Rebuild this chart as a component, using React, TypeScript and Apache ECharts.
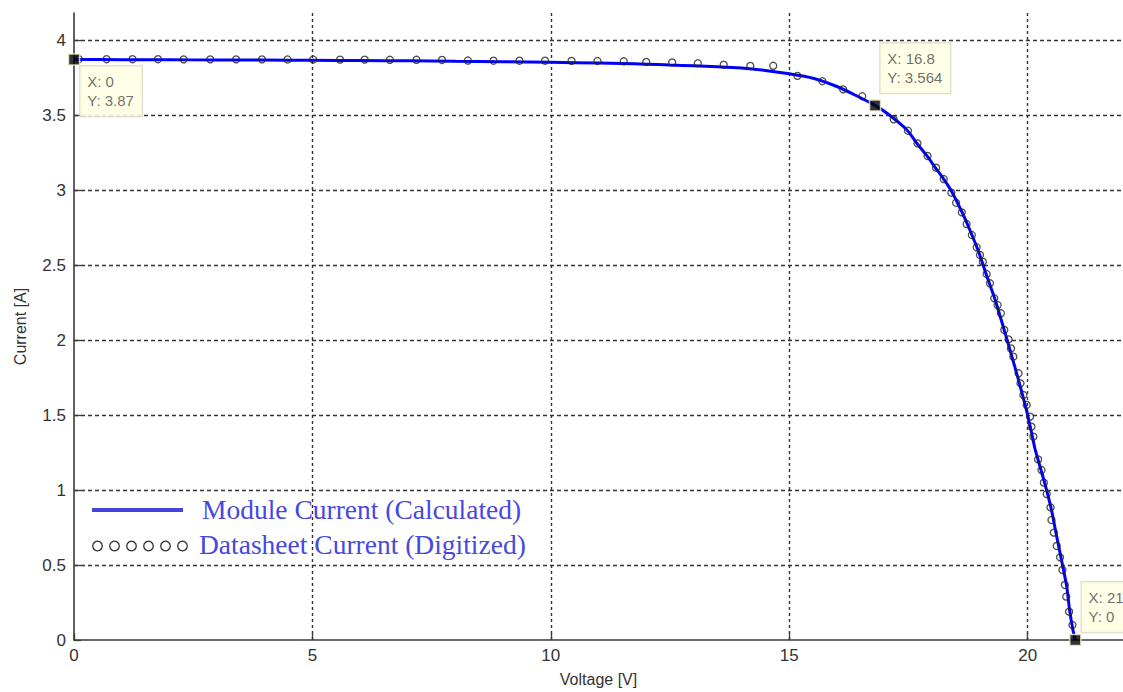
import React, { useEffect, useRef } from "react";
import * as echarts from "echarts";

// Calculated module current (blue line)
const calcVoltage = [0, 1, 2, 3, 4, 5, 6, 7, 8, 9, 10, 11, 11.5, 12, 12.5, 13, 13.5, 14, 14.5, 15, 15.5, 16, 16.4, 16.8, 17.1, 17.47, 17.68, 17.89, 18.06, 18.24, 18.41, 18.62, 18.76, 18.97, 19.14, 19.32, 19.56, 19.77, 19.94, 20.05, 20.15, 20.22, 20.36, 20.5, 20.61, 20.71, 20.82, 20.88, 20.95, 21];
const calcCurrent = [3.87, 3.869, 3.868, 3.867, 3.866, 3.865, 3.863, 3.861, 3.858, 3.855, 3.851, 3.847, 3.844, 3.839, 3.833, 3.828, 3.822, 3.813, 3.797, 3.775, 3.745, 3.69, 3.63, 3.564, 3.5, 3.4, 3.31, 3.227, 3.151, 3.073, 2.989, 2.855, 2.755, 2.59, 2.43, 2.267, 2.011, 1.778, 1.578, 1.43, 1.28, 1.2, 1.044, 0.867, 0.689, 0.533, 0.356, 0.2, 0.067, 0];

// Datasheet current (digitized circles)
const sheetVoltage = [0.1, 0.683, 1.227, 1.762, 2.299, 2.857, 3.4, 3.944, 4.479, 5.016, 5.58, 6.096, 6.625, 7.183, 7.718, 8.261, 8.798, 9.342, 9.879, 10.435, 10.978, 11.53, 12.002, 12.545, 13.083, 13.626, 14.184, 14.665, 15.172, 15.695, 16.13, 16.53, 17.19, 17.49, 17.69, 17.9, 18.08, 18.24, 18.4, 18.5, 18.62, 18.72, 18.83, 18.93, 19.0, 19.06, 19.14, 19.21, 19.3, 19.37, 19.44, 19.51, 19.6, 19.65, 19.7, 19.81, 19.85, 19.91, 19.98, 20.05, 20.08, 20.12, 20.22, 20.29, 20.34, 20.4, 20.48, 20.5, 20.55, 20.61, 20.68, 20.73, 20.78, 20.81, 20.87, 20.94];
const sheetCurrent = [3.872, 3.872, 3.872, 3.872, 3.871, 3.871, 3.871, 3.871, 3.87, 3.87, 3.869, 3.869, 3.868, 3.868, 3.867, 3.863, 3.862, 3.862, 3.862, 3.861, 3.86, 3.858, 3.854, 3.851, 3.845, 3.836, 3.827, 3.828, 3.761, 3.725, 3.671, 3.625, 3.471, 3.395, 3.311, 3.227, 3.149, 3.073, 2.982, 2.915, 2.851, 2.773, 2.7, 2.618, 2.567, 2.522, 2.44, 2.378, 2.278, 2.233, 2.178, 2.067, 2.004, 1.944, 1.889, 1.778, 1.711, 1.633, 1.567, 1.489, 1.422, 1.356, 1.204, 1.133, 1.049, 0.973, 0.884, 0.8, 0.716, 0.627, 0.551, 0.467, 0.367, 0.289, 0.189, 0.1];

// Data tips
const tipVoltage = [0, 16.8, 21];
const tipCurrent = [3.87, 3.564, 0];

const legendLabels = ["Module Current (Calculated)", "Datasheet Current (Digitized)"];
const xAxisTitle = "Voltage [V]";
const yAxisTitle = "Current [A]";

const tipLabelOffsets = [
  [12.5, 13],
  [11.5, -56],
  [12.5, -51.5],
];

const App: React.FC = () => {
  const ref = useRef<HTMLDivElement>(null);

  useEffect(() => {
    if (!ref.current) return;
    const chart = echarts.init(ref.current, undefined, { renderer: "svg" });
    const sans = "'Liberation Sans', Arial, sans-serif";
    const serif = "'Liberation Serif', 'Times New Roman', serif";

    const legendCircles = [0, 1, 2, 3, 4, 5].map((i) => ({
      type: "circle",
      shape: { cx: 97.5 + i * 17, cy: 546, r: 4.8 },
      style: { fill: "transparent", stroke: "#333", lineWidth: 1.3 },
    }));

    chart.setOption({
      animation: false,
      backgroundColor: "#ffffff",
      grid: { left: 74, right: -4, top: 13, bottom: 52, containLabel: false },
      xAxis: {
        type: "value",
        min: 0,
        max: 22,
        interval: 5,
        name: xAxisTitle,
        nameLocation: "middle",
        nameGap: 31,
        nameTextStyle: { fontFamily: sans, fontSize: 16, color: "#333" },
        axisLine: { show: true, onZero: false, lineStyle: { color: "#3a3a3a", width: 1.6 } },
        axisTick: { show: true, inside: true, length: 7, lineStyle: { color: "#3a3a3a", width: 1.3 } },
        axisLabel: {
          fontFamily: sans,
          fontSize: 17,
          color: "#333",
          margin: 7,
          showMaxLabel: false,
          formatter: (v: number) => (v % 5 === 0 ? String(v) : ""),
        },
        splitLine: {
          show: true,
          showMinLine: false,
          showMaxLine: false,
          lineStyle: { color: "#333", type: [3, 3], width: 1.4 },
        },
      },
      yAxis: {
        type: "value",
        min: 0,
        max: 4.18,
        interval: 0.5,
        name: yAxisTitle,
        nameLocation: "middle",
        nameGap: 46,
        nameTextStyle: { fontFamily: sans, fontSize: 16, color: "#333" },
        axisLine: { show: true, onZero: false, lineStyle: { color: "#3a3a3a", width: 1.6 } },
        axisTick: { show: true, inside: true, length: 7, lineStyle: { color: "#3a3a3a", width: 1.3 } },
        axisLabel: {
          fontFamily: sans,
          fontSize: 17,
          color: "#333",
          margin: 8,
          showMaxLabel: false,
          formatter: (v: number) => (Math.abs(v * 2 - Math.round(v * 2)) < 1e-6 ? String(v) : ""),
        },
        splitLine: {
          show: true,
          showMinLine: false,
          showMaxLine: false,
          lineStyle: { color: "#333", type: [4, 3], width: 1.4 },
        },
      },
      series: [
        {
          type: "line",
          name: legendLabels[0],
          data: calcVoltage.map((v, i) => [v, calcCurrent[i]]),
          showSymbol: false,
          smooth: 0.2,
          lineStyle: { color: "#0000ff", width: 3 },
          z: 2,
        },
        {
          type: "scatter",
          name: legendLabels[1],
          data: sheetVoltage.map((v, i) => [v, sheetCurrent[i]]),
          symbol: "circle",
          symbolSize: 7,
          itemStyle: { color: "transparent", borderColor: "#222", borderWidth: 1.3 },
          z: 3,
        },
        {
          type: "scatter",
          name: "tips",
          data: tipVoltage.map((v, i) => ({
            value: [v, tipCurrent[i]],
            label: { position: tipLabelOffsets[i] },
          })),
          symbol: "rect",
          symbolSize: 11,
          itemStyle: { color: "#000", borderColor: "#f3f3c8", borderWidth: 1.5 },
          z: 5,
          label: {
            show: true,
            formatter: (p: any) => `X: ${p.value[0]}\nY: ${p.value[1]}`,
            fontFamily: sans,
            fontSize: 15,
            lineHeight: 19,
            color: "#4a4a4a",
            backgroundColor: "#ffffe1",
            borderColor: "#cfcfb8",
            borderWidth: 1,
            padding: [6, 8, 6, 7],
            align: "left",
            verticalAlign: "top",
          },
        },
      ],
      graphic: [
        {
          type: "line",
          shape: { x1: 92, y1: 510, x2: 183, y2: 510 },
          style: { stroke: "#4444dd", lineWidth: 4 },
        },
        ...legendCircles,
        {
          type: "text",
          x: 202,
          y: 509,
          style: {
            text: legendLabels[0],
            font: `27.5px ${serif}`,
            fill: "#4848de",
            verticalAlign: "middle",
            align: "left",
          },
        },
        {
          type: "text",
          x: 199,
          y: 544,
          style: {
            text: legendLabels[1],
            font: `27.5px ${serif}`,
            fill: "#4848de",
            verticalAlign: "middle",
            align: "left",
          },
        },
      ],
    });

    return () => chart.dispose();
  }, []);

  return (
    <div
      ref={ref}
      style={{ position: "fixed", left: 0, top: 0, width: 1123, height: 692, background: "#fff" }}
    />
  );
};

export default App;
